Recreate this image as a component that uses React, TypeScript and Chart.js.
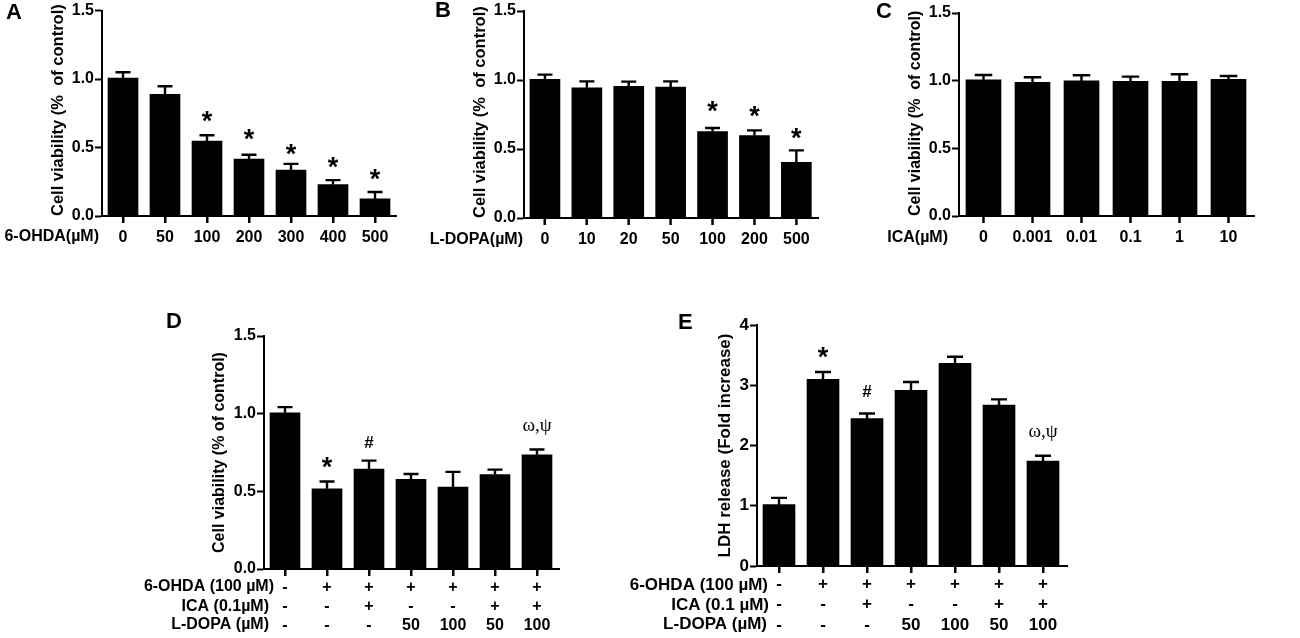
import React, { useEffect, useRef } from "react";
import { Chart, registerables } from "chart.js";

Chart.register(...registerables);

// ---------- data ----------
const catsA = ["0", "50", "100", "200", "300", "400", "500"];
const valsA = [1.007, 0.888, 0.548, 0.415, 0.335, 0.23, 0.126];
const upperA = [1.05, 0.947, 0.59, 0.447, 0.381, 0.262, 0.175];
const marksA = ["", "", "*", "*", "*", "*", "*"];
const markLevelsA = [null, null, 0.728, 0.597, 0.485, 0.388, 0.306];

const catsB = ["0", "10", "20", "50", "100", "200", "500"];
const valsB = [1.005, 0.944, 0.954, 0.949, 0.626, 0.597, 0.403];
const upperB = [1.039, 0.99, 0.988, 0.99, 0.652, 0.635, 0.49];
const marksB = ["", "", "", "", "*", "*", "*"];
const markLevelsB = [null, null, null, null, 0.807, 0.771, 0.609];

const catsC = ["0", "0.001", "0.01", "0.1", "1", "10"];
const valsC = [1.007, 0.988, 0.998, 0.995, 0.995, 1.01];
const upperC = [1.042, 1.025, 1.04, 1.03, 1.047, 1.034];
const marksC = ["", "", "", "", "", ""];
const markLevelsC = [null, null, null, null, null, null];

const ohdaRow = ["-", "+", "+", "+", "+", "+", "+"];
const icaRow = ["-", "-", "+", "-", "-", "+", "+"];
const dopaRow = ["-", "-", "-", "50", "100", "50", "100"];

const valsD = [1.006, 0.516, 0.643, 0.578, 0.527, 0.608, 0.735];
const upperD = [1.042, 0.563, 0.698, 0.612, 0.625, 0.64, 0.769];
const marksD = ["", "*", "#", "", "", "", "ω,ψ"];
const markLevelsD = [null, 0.683, 0.819, null, null, null, 0.911];

const valsE = [1.018, 3.1, 2.445, 2.916, 3.364, 2.672, 1.743];
const upperE = [1.13, 3.22, 2.53, 3.054, 3.474, 2.766, 1.83];
const marksE = ["", "*", "#", "", "", "", "ω,ψ"];
const markLevelsE = [null, 3.54, 2.9, null, null, null, 2.207];

const rowLabelsD = ["6-OHDA (100 µM)", "ICA (0.1µM)", "L-DOPA (µM)"];
const rowLabelsE = ["6-OHDA (100 µM)", "ICA (0.1 µM)", "L-DOPA (µM)"];

const zip3 = (a: string[], b: string[], c: string[]) => a.map((v, i) => [v, b[i], c[i]]);

// ---------- panel definitions ----------
const FONT = '"Liberation Sans", Arial, sans-serif';

type Panel = {
  letter: string; cats: any[]; vals: number[]; upper: number[]; marks: string[]; levels: (number | null)[];
  yTitle: string; yMax: number; yStep: number; rows: string[]; fontSize: number; titleSize: number; titleAlign: string;
  box: [number, number, number, number]; // left, top, width, height
  axisLeft: number; axisTop: number; axisBottom: number; step: number; axisEnd: number;
  barW: number; titleX: number; labelPad: number;
  letterPos: [number, number]; rowPos: [number, number][];
};

const panels: Panel[] = [
  { letter: "A", cats: catsA, vals: valsA, upper: upperA, marks: marksA, levels: markLevelsA,
    yTitle: "Cell viability (%  of control)", yMax: 1.5, yStep: 0.5, rows: ["6-OHDA(µM)"], fontSize: 16, titleSize: 16.5, titleAlign: "start",
    box: [0, 0, 415, 250], axisLeft: 102, axisTop: 10, axisBottom: 216, step: 42, axisEnd: 397,
    barW: 30, titleX: 58, labelPad: 5, letterPos: [6, 19], rowPos: [[99, 237]] },
  { letter: "B", cats: catsB, vals: valsB, upper: upperB, marks: marksB, levels: markLevelsB,
    yTitle: "Cell viability (%  of control)", yMax: 1.5, yStep: 0.5, rows: ["L-DOPA(µM)"], fontSize: 16, titleSize: 16.5, titleAlign: "start",
    box: [420, 0, 415, 250], axisLeft: 524, axisTop: 11, axisBottom: 218, step: 41.9, axisEnd: 819,
    barW: 30, titleX: 480, labelPad: 5, letterPos: [435, 17], rowPos: [[523, 240]] },
  { letter: "C", cats: catsC, vals: valsC, upper: upperC, marks: marksC, levels: markLevelsC,
    yTitle: "Cell viability (%  of control)", yMax: 1.5, yStep: 0.5, rows: ["ICA(µM)"], fontSize: 16, titleSize: 16, titleAlign: "start",
    box: [860, 0, 420, 250], axisLeft: 959, axisTop: 13, axisBottom: 216, step: 49, axisEnd: 1255,
    barW: 35, titleX: 916, labelPad: 5, letterPos: [876, 18], rowPos: [[948, 238]] },
  { letter: "D", cats: zip3(ohdaRow, icaRow, dopaRow), vals: valsD, upper: upperD, marks: marksD, levels: markLevelsD,
    yTitle: "Cell viability (% of control)", yMax: 1.5, yStep: 0.5, rows: rowLabelsD, fontSize: 16, titleSize: 16, titleAlign: "center",
    box: [100, 310, 480, 328], axisLeft: 264, axisTop: 336, axisBottom: 569, step: 42, axisEnd: 560,
    barW: 30, titleX: 220, labelPad: 2, letterPos: [166, 328], rowPos: [[274, 587], [269, 607], [269, 625]] },
  { letter: "E", cats: zip3(ohdaRow, icaRow, dopaRow), vals: valsE, upper: upperE, marks: marksE, levels: markLevelsE,
    yTitle: "LDH release (Fold increase)", yMax: 4, yStep: 1, rows: rowLabelsE, fontSize: 17, titleSize: 17, titleAlign: "center",
    box: [620, 310, 470, 328], axisLeft: 757, axisTop: 325, axisBottom: 566, step: 44, axisEnd: 1068,
    barW: 32, titleX: 725, labelPad: 1, letterPos: [678, 329], rowPos: [[768, 585], [769, 605], [767, 624]] },
];

function decorations(p: Panel) {
  const [bx, by] = p.box;
  return {
    id: "decorations",
    afterDatasetsDraw(chart: any) {
      const { ctx, scales, chartArea } = chart;
      const x = scales.x, y = scales.y;
      ctx.save();
      ctx.fillStyle = "#000";
      ctx.strokeStyle = "#000";
      ctx.lineWidth = 2.4;
      // error bars (upper whisker only)
      p.upper.forEach((u, i) => {
        const cx = x.getPixelForValue(i);
        const yTop = y.getPixelForValue(u);
        const yBar = y.getPixelForValue(p.vals[i]);
        const cap = p.barW * 0.25;
        ctx.beginPath();
        ctx.moveTo(cx, yBar);
        ctx.lineTo(cx, yTop);
        ctx.moveTo(cx - cap, yTop);
        ctx.lineTo(cx + cap, yTop);
        ctx.stroke();
      });
      // significance marks
      p.marks.forEach((m, i) => {
        const lvl = p.levels[i];
        if (!m || lvl == null) return;
        ctx.font = m === "*" ? `bold 27px ${FONT}` : m === "#" ? `bold 17px ${FONT}` : `19px "Liberation Serif", serif`;
        ctx.textAlign = "center";
        ctx.textBaseline = "alphabetic";
        const t = ctx.measureText(m);
        const cy = y.getPixelForValue(lvl);
        ctx.fillText(m, x.getPixelForValue(i), cy + (t.actualBoundingBoxAscent - t.actualBoundingBoxDescent) / 2);
      });
      // x axis overhang and tick marks under each bar
      ctx.lineWidth = 2;
      ctx.beginPath();
      ctx.moveTo(chartArea.right, chartArea.bottom);
      ctx.lineTo(p.axisEnd - bx, chartArea.bottom);
      p.cats.forEach((_, i) => {
        const cx = x.getPixelForValue(i);
        ctx.moveTo(cx, chartArea.bottom);
        ctx.lineTo(cx, chartArea.bottom + 7);
      });
      ctx.stroke();
      // row captions
      ctx.font = `bold ${p.fontSize}px ${FONT}`;
      ctx.textAlign = "right";
      ctx.textBaseline = "middle";
      p.rows.forEach((r, i) => ctx.fillText(r, p.rowPos[i][0] - bx, p.rowPos[i][1] - by));
      // panel letter
      ctx.font = `bold 22px ${FONT}`;
      ctx.textAlign = "left";
      ctx.textBaseline = "alphabetic";
      ctx.fillText(p.letter, p.letterPos[0] - bx, p.letterPos[1] - by);
      ctx.restore();
    },
  };
}

function PanelChart({ p }: { p: Panel }) {
  const ref = useRef<HTMLCanvasElement>(null);
  useEffect(() => {
    const [bx, by, bw, bh] = p.box;
    const font = { family: FONT, size: p.fontSize, weight: "bold" as const, lineHeight: 1.2 };
    const scaleLeft = p.titleX - bx - (p.titleSize * 1.2) / 2;
    const chart = new Chart(ref.current!, {
      type: "bar",
      data: {
        labels: p.cats,
        datasets: [{ data: p.vals, backgroundColor: "#000", barThickness: p.barW, borderWidth: 0 }],
      },
      options: {
        animation: false,
        responsive: false,
        devicePixelRatio: 1,
        layout: {
          padding: {
            left: scaleLeft,
            top: p.axisTop - by,
            right: bx + bw - (p.axisLeft + p.step * p.cats.length),
            bottom: 0,
          },
        },
        plugins: { legend: { display: false }, tooltip: { enabled: false }, title: { display: false } },
        scales: {
          x: {
            type: "category",
            offset: true,
            afterFit(s: any) { s.height = by + bh - p.axisBottom; },
            grid: { offset: false, drawOnChartArea: false, drawTicks: true, tickLength: 7, tickWidth: 2, tickColor: "#000" },
            border: { color: "#000", width: 2 },
            ticks: {
              autoSkip: false, maxRotation: 0, minRotation: 0, padding: p.labelPad, color: "#000",
              font: { ...font, lineHeight: 1.2 },
            },
          },
          y: {
            min: 0,
            max: p.yMax,
            afterFit(s: any) { s.width = p.axisLeft - bx - scaleLeft; },
            grid: { drawOnChartArea: false, drawTicks: true, tickLength: 7, tickWidth: 2, tickColor: "#000" },
            border: { color: "#000", width: 2 },
            ticks: {
              stepSize: p.yStep, padding: 1, color: "#000", font,
              callback: (v: any) => Number(v).toFixed(p.yStep < 1 ? 1 : 0),
            },
            title: {
              display: true, text: p.yTitle, color: "#000", padding: 0, align: p.titleAlign,
              font: { ...font, size: p.titleSize },
            },
          },
        },
      },
      plugins: [decorations(p)],
    } as any);
    return () => chart.destroy();
  }, [p]);
  const [l, t, w, h] = p.box;
  return <canvas ref={ref} width={w} height={h} style={{ position: "absolute", left: l, top: t, width: w, height: h }} />;
}

export default function App() {
  return (
    <div style={{ position: "absolute", left: 0, top: 0, width: 1300, height: 638, background: "#fff", overflow: "hidden" }}>
      {panels.map((p) => <PanelChart key={p.letter} p={p} />)}
    </div>
  );
}
